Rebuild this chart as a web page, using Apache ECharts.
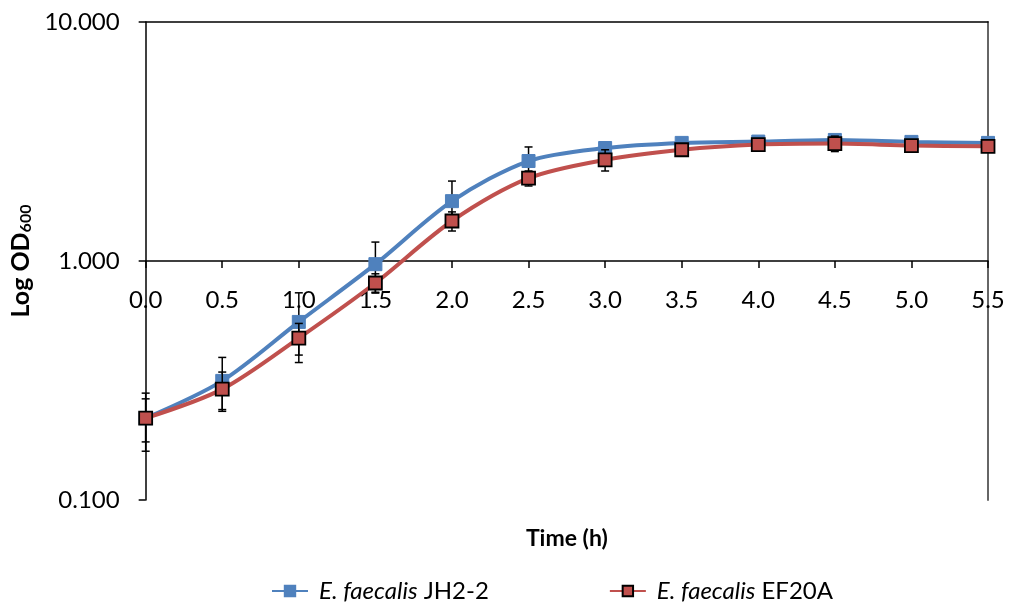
<!DOCTYPE html>
<html>
<head>
<meta charset="utf-8">
<script src="https://cdn.jsdelivr.net/npm/echarts@6/dist/echarts.min.js"></script>
<style>
  html, body { margin: 0; padding: 0; background: #fff; }
  #chart { width: 1010px; height: 602px; }
</style>
</head>
<body>
<div id="chart"></div>
<script>
// Sampling times (h)
const times = [0.0, 0.5, 1.0, 1.5, 2.0, 2.5, 3.0, 3.5, 4.0, 4.5, 5.0, 5.5];

// Mean OD600 per strain
const jh22 = [0.22, 0.315, 0.556, 0.97, 1.78, 2.62, 2.97, 3.12, 3.16, 3.21, 3.15, 3.12];
const ef20a = [0.22, 0.291, 0.476, 0.809, 1.47, 2.22, 2.65, 2.92, 3.07, 3.10, 3.04, 3.02];

// Standard deviations
const jh22Sd = [0.045, 0.08, 0.18, 0.23, 0.38, 0.38, 0.08, 0.06, 0.06, 0.06, 0.05, 0.05];
const ef20aSd = [0.06, 0.052, 0.072, 0.075, 0.135, 0.16, 0.27, 0.06, 0.06, 0.23, 0.05, 0.05];

// Axis tick values
const yTicks = [0.1, 1, 10];

const seriesNames = ['E. faecalis JH2-2', 'E. faecalis EF20A'];
const blue = '#4F81BD';
const red = '#C0504D';
const font = 'Lato, "Open Sans", sans-serif';

function pairs(xs, ys) { return xs.map((x, i) => [x, ys[i]]); }
function errRows(xs, ys, sd) { return xs.map((x, i) => [x, ys[i] - sd[i], ys[i] + sd[i]]); }

function errorBars(api) {
  const x = api.value(0);
  const lo = api.coord([x, api.value(1)]);
  const hi = api.coord([x, api.value(2)]);
  const half = 4;
  const style = { stroke: '#000', lineWidth: 1.5 };
  return {
    type: 'group',
    children: [
      { type: 'line', shape: { x1: lo[0], y1: lo[1], x2: hi[0], y2: hi[1] }, style },
      { type: 'line', shape: { x1: lo[0] - half, y1: lo[1], x2: lo[0] + half, y2: lo[1] }, style },
      { type: 'line', shape: { x1: hi[0] - half, y1: hi[1], x2: hi[0] + half, y2: hi[1] }, style }
    ]
  };
}

const chart = echarts.init(document.getElementById('chart'), null, { renderer: 'canvas' });

chart.setOption({
  animation: false,
  backgroundColor: '#fff',
  textStyle: { fontFamily: font },
  grid: { left: 145, right: 22, top: 22, bottom: 102, containLabel: false },
  legend: {
    data: seriesNames,
    left: 266,
    top: 574,
    itemGap: 120,
    itemWidth: 36,
    itemHeight: 13,
    formatter: function (name) {
      const parts = name.split(' ');
      return '{i|' + parts[0] + ' ' + parts[1] + '} {n|' + parts[2] + '}';
    },
    textStyle: {
      fontFamily: font,
      fontSize: 24,
      color: '#000',
      padding: [0, 0, 0, 6],
      rich: {
        i: { fontFamily: font, fontSize: 24, fontStyle: 'italic', color: '#000' },
        n: { fontFamily: font, fontSize: 24, color: '#000' }
      }
    }
  },
  xAxis: [
    {
      type: 'value',
      min: 0,
      max: 5.5,
      interval: 0.5,
      position: 'bottom',
      offset: -239,
      name: 'Time (h)',
      nameLocation: 'middle',
      nameGap: 266,
      nameTextStyle: { fontFamily: font, fontSize: 23, fontWeight: 'bold', color: '#000' },
      axisLine: { show: true, lineStyle: { color: '#000', width: 1.5 } },
      axisTick: { show: true, length: 7, lineStyle: { color: '#000', width: 1.5 } },
      axisLabel: {
        show: true,
        margin: 27,
        fontFamily: font,
        fontSize: 24,
        color: '#000',
        showMinLabel: true,
        showMaxLabel: true,
        formatter: v => v.toFixed(1)
      },
      splitLine: { show: false }
    },
    {
      type: 'value',
      min: 0,
      max: 5.5,
      position: 'top',
      axisLine: { show: true, lineStyle: { color: '#000', width: 1.5 } },
      axisTick: { show: false },
      axisLabel: { show: false },
      splitLine: { show: false }
    }
  ],
  yAxis: [
    {
      type: 'log',
      logBase: 10,
      min: yTicks[0],
      max: yTicks[yTicks.length - 1],
      position: 'left',
      name: 'Log OD{sub|600}',
      nameLocation: 'middle',
      nameGap: 98,
      nameRotate: 90,
      nameTextStyle: {
        fontFamily: font,
        fontSize: 25,
        fontWeight: 'bold',
        color: '#000',
        rich: {
          sub: { fontFamily: font, fontSize: 16, fontWeight: 'bold', color: '#000', verticalAlign: 'bottom', padding: [10, 0, 0, 0] }
        }
      },
      axisLine: { show: true, lineStyle: { color: '#000', width: 1.5 } },
      axisTick: { show: true, inside: false, length: 7, lineStyle: { color: '#000', width: 1.5 } },
      axisLabel: {
        margin: 26,
        fontFamily: font,
        fontSize: 24,
        color: '#000',
        formatter: v => v.toFixed(3)
      },
      minorTick: { show: false },
      splitLine: { show: false }
    },
    {
      type: 'value',
      min: 0,
      max: 1,
      position: 'right',
      axisLine: { show: true, onZero: false, lineStyle: { color: '#666', width: 2 } },
      axisTick: { show: false },
      axisLabel: { show: false },
      splitLine: { show: false }
    }
  ],
  series: [
    {
      name: 'jh22-err',
      type: 'custom',
      xAxisIndex: 0,
      yAxisIndex: 0,
      z: 1,
      renderItem: (params, api) => errorBars(api),
      encode: { x: 0, y: [1, 2] },
      data: errRows(times, jh22, jh22Sd),
      silent: true
    },
    {
      name: seriesNames[0],
      type: 'line',
      xAxisIndex: 0,
      yAxisIndex: 0,
      z: 2,
      smooth: 0.3,
      symbol: 'rect',
      symbolSize: 13,
      showAllSymbol: true,
      lineStyle: { color: blue, width: 4 },
      itemStyle: { color: blue, borderColor: blue, borderWidth: 1 },
      data: pairs(times, jh22)
    },
    {
      name: 'ef20a-err',
      type: 'custom',
      xAxisIndex: 0,
      yAxisIndex: 0,
      z: 3,
      renderItem: (params, api) => errorBars(api),
      encode: { x: 0, y: [1, 2] },
      data: errRows(times, ef20a, ef20aSd),
      silent: true
    },
    {
      name: seriesNames[1],
      type: 'line',
      xAxisIndex: 0,
      yAxisIndex: 0,
      z: 4,
      smooth: 0.3,
      symbol: 'rect',
      symbolSize: 13,
      showAllSymbol: true,
      lineStyle: { color: red, width: 4 },
      itemStyle: { color: red, borderColor: '#000', borderWidth: 1.8 },
      data: pairs(times, ef20a)
    },
    {
      name: 'frame',
      type: 'line',
      xAxisIndex: 1,
      yAxisIndex: 1,
      data: [],
      silent: true
    }
  ]
});
</script>
</body>
</html>
